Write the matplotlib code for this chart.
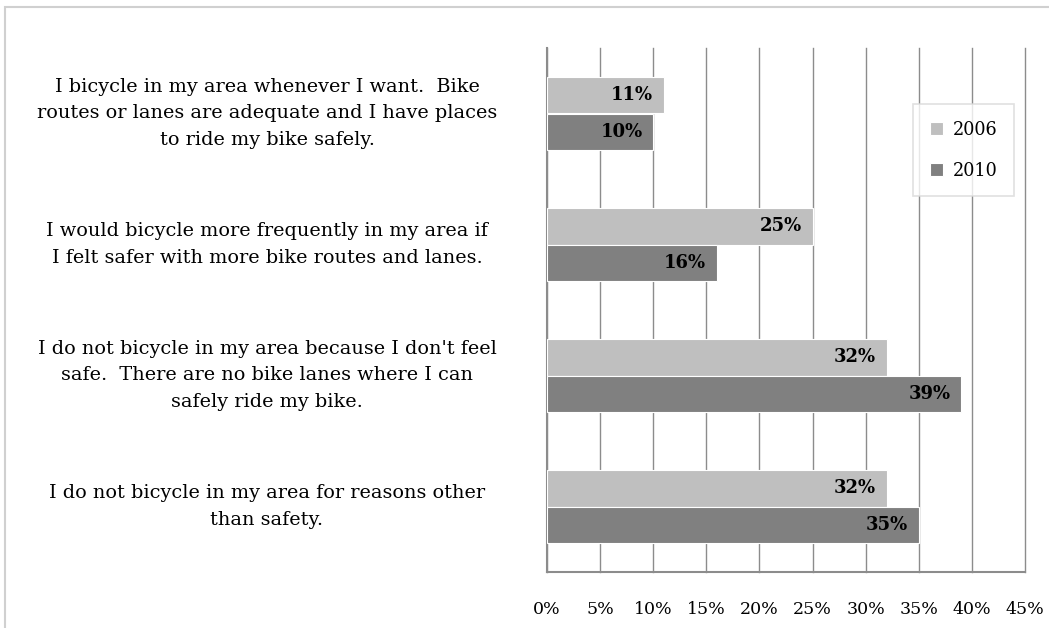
import matplotlib.pyplot as plt
from matplotlib.patches import Rectangle
from matplotlib.transforms import blended_transform_factory

plt.rcParams['font.family'] = ['DejaVu Serif']

# survey answers (top to bottom) and shares per year
categories = [
    "I bicycle in my area whenever I want.  Bike\nroutes or lanes are adequate and I have places\nto ride my bike safely.",
    "I would bicycle more frequently in my area if\nI felt safer with more bike routes and lanes.",
    "I do not bicycle in my area because I don't feel\nsafe.  There are no bike lanes where I can\nsafely ride my bike.",
    "I do not bicycle in my area for reasons other\nthan safety.",
]
years = ["2006", "2010"]
values_2006 = [11, 25, 32, 32]
values_2010 = [10, 16, 39, 35]
xticks = [0, 5, 10, 15, 20, 25, 30, 35, 40, 45]

W, H = 1049, 628
fig = plt.figure(figsize=(W / 100, H / 100), dpi=100)
ax = fig.add_axes([547 / W, 1 - 572 / H, (1025 - 547) / W, (572 - 48) / H])

# light frame of the chart area (only top/left visible in the crop)
fig.patches.append(Rectangle((5 / W, -0.1), 1.2, 1 - 7 / H + 0.1, transform=fig.transFigure,
                             fill=False, edgecolor='#d0d0d0', linewidth=1.5))

grid_col = '#8c8c8c'
h = 0.282
ypos = list(range(len(categories)))
b1 = ax.barh([y - h / 2 for y in ypos], values_2006, height=h, color='#bfbfbf',
             edgecolor='white', linewidth=0.8, label=years[0], zorder=3)
b2 = ax.barh([y + h / 2 for y in ypos], values_2010, height=h, color='#808080',
             edgecolor='white', linewidth=0.8, label=years[1], zorder=3)

for bars, vals in [(b1, values_2006), (b2, values_2010)]:
    for bar, v in zip(bars, vals):
        ax.text(v - 1.0, bar.get_y() + bar.get_height() / 2, f"{v}%", ha='right', va='center',
                fontsize=13, fontweight='bold', zorder=4)

ax.set_xlim(0, 45)
ax.set_ylim(len(categories) - 0.5, -0.5)
ax.set_xticks(xticks)
ax.set_xticklabels([f"{t}%" for t in xticks], fontsize=12.5)
ax.tick_params(axis='x', length=0, pad=21)
ax.set_yticks([])
ax.grid(axis='x', color=grid_col, linewidth=1, zorder=0)
for gl in ax.xaxis.get_gridlines():
    gl.set_clip_on(False)
for s in ['top', 'right']:
    ax.spines[s].set_visible(False)
ax.spines['left'].set_color(grid_col)
ax.spines['bottom'].set_color(grid_col)
ax.spines['left'].set_linewidth(1.5)
ax.spines['bottom'].set_linewidth(1.5)

# category labels centred left of the plot
trans = blended_transform_factory(fig.transFigure, ax.transData)
for y, lab in zip(ypos, categories):
    ax.text(267 / W, y, lab, transform=trans, ha='center', va='center',
            fontsize=13.9, linespacing=1.6)

leg = ax.legend(loc='upper left', bbox_to_anchor=((913 - 547) / (1025 - 547), 1 - (104 - 48) / (572 - 48)),
                fontsize=12.7, frameon=True, fancybox=False, edgecolor='#d9d9d9',
                handlelength=0.75, handleheight=0.75, handletextpad=0.55, labelspacing=1.3,
                borderpad=0.95, borderaxespad=0)
leg.get_frame().set_linewidth(1.2)

fig.savefig("out.png", dpi=100)
